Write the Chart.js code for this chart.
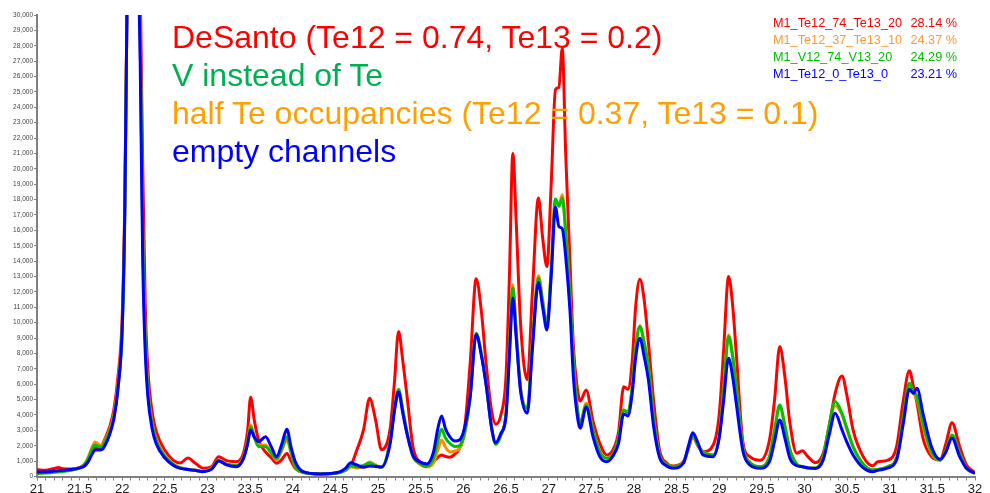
<!DOCTYPE html>
<html>
<head>
<meta charset="utf-8">
<script src="https://cdn.jsdelivr.net/npm/chart.js@4.4.1/dist/chart.umd.min.js"></script>
<style>
  body { margin: 0; background: #fff; }
  #wrap { position: relative; width: 990px; height: 493px; font-family: "Liberation Sans", Arial, sans-serif; }
  #plot { position: absolute; left: 0; top: 0; }
  .notes { position: absolute; left: 172px; top: 19.3px; font-size: 32px; line-height: 37.8px; white-space: nowrap; }
  .key { position: absolute; left: 773px; top: 15.4px; width: 184px; font-size: 12.7px; line-height: 17px; white-space: nowrap; }
  .key div { display: flex; justify-content: space-between; }
</style>
</head>
<body>
<div id="wrap">
  <canvas id="plot" width="990" height="493"></canvas>
  <div class="notes">
    <div style="color:#ff0000">DeSanto (Te12 = 0.74, Te13 = 0.2)</div>
    <div style="color:#00b050">V instead of Te</div>
    <div style="color:#ffa000">half Te occupancies (Te12 = 0.37, Te13 = 0.1)</div>
    <div style="color:#0000ff">empty channels</div>
  </div>
  <div class="key">
    <div style="color:#ff0000"><span>M1_Te12_74_Te13_20</span><span>28.14 %</span></div>
    <div style="color:#ff9933"><span>M1_Te12_37_Te13_10</span><span>24.37 %</span></div>
    <div style="color:#00c000"><span>M1_V12_74_V13_20</span><span>24.29 %</span></div>
    <div style="color:#0000ff"><span>M1_Te12_0_Te13_0</span><span>23.21 %</span></div>
  </div>
</div>
<script>
// 2theta positions (deg), shared by all four patterns
const twoTheta = [
  21.0, 21.1, 21.2, 21.25, 21.3, 21.4, 21.5, 21.55, 21.6, 21.65,
  21.68, 21.72, 21.76, 21.8, 21.85, 21.9, 21.95, 22.0, 22.03, 22.06,
  22.12, 22.18, 22.21, 22.24, 22.27, 22.3, 22.35, 22.4, 22.5, 22.6,
  22.68, 22.77, 22.85, 22.95, 23.05, 23.13, 23.22, 23.34, 23.42, 23.47,
  23.505, 23.55, 23.6, 23.68, 23.75, 23.81, 23.87, 23.93, 23.98, 24.03,
  24.12, 24.32, 24.55, 24.62, 24.68, 24.75, 24.83, 24.9, 24.97, 25.04,
  25.14, 25.19, 25.24, 25.29, 25.34, 25.41, 25.49, 25.57, 25.65, 25.7,
  25.745, 25.79, 25.84, 25.9, 25.96, 26.02, 26.08, 26.15, 26.21, 26.27,
  26.33, 26.38, 26.44, 26.5, 26.54, 26.58, 26.62, 26.67, 26.75, 26.81,
  26.88, 26.93, 26.98, 27.03, 27.08, 27.12, 27.16, 27.2, 27.25, 27.29,
  27.33, 27.37, 27.44, 27.52, 27.6, 27.68, 27.75, 27.82, 27.88, 27.93,
  27.98, 28.02, 28.07, 28.12, 28.17, 28.23, 28.3, 28.38, 28.46, 28.58,
  28.64, 28.69, 28.75, 28.81, 28.93, 29.0, 29.05, 29.11, 29.16, 29.2,
  29.28, 29.36, 29.48, 29.59, 29.65, 29.71, 29.77, 29.83, 29.91, 29.975,
  30.04, 30.13, 30.22, 30.29, 30.36, 30.44, 30.5, 30.57, 30.69, 30.8,
  30.86, 30.98, 31.08, 31.16, 31.23, 31.28, 31.32, 31.39, 31.49, 31.59,
  31.66, 31.73, 31.82, 31.9, 32.0
];

// M1_Te12_74_Te13_20 (DeSanto)
const teFull = [
  450, 400, 520, 580, 500, 480, 580, 750, 1100, 1700,
  1900, 1850, 2000, 2500, 3200, 4300, 6500, 10500, 18000, 33000,
  55000, 40000, 32000, 20000, 11000, 7000, 4200, 2900, 1700, 1050,
  880, 1200, 900, 530, 650, 1280, 1030, 960, 1500, 3000,
  5150, 3600, 2350, 1600, 1200, 860, 1100, 1500, 1000, 520,
  250, 170, 280, 450, 700, 1700, 3050, 5080, 3700, 1750,
  3050, 6000, 9420, 7500, 5200, 1900, 950, 780, 960, 1250,
  1400, 1300, 1250, 1450, 1900, 3400, 7370, 12850, 10800, 7150,
  4300, 3400, 4000, 6500, 13000, 21000, 16500, 10000, 6300, 12000,
  18100, 15500, 13650, 19000, 25150, 25300, 27860, 21000, 14000, 8500,
  6000, 4900, 5630, 3600, 2160, 1400, 1700, 2900, 5840, 5670,
  7500, 11000, 12830, 11500, 8700, 4980, 1720, 900, 680, 960,
  1800, 2590, 2000, 1610, 2050, 4000, 8000, 13000, 11000, 8020,
  2160, 1290, 1050, 2370, 5000, 8450, 6500, 3460, 1510, 1680,
  1290, 900, 1510, 3300, 5410, 6540, 5200, 3030, 1290, 700,
  960, 1070, 1940, 4980, 6880, 5800, 4760, 2490, 1290, 1070,
  2160, 3500, 1940, 750, 250
];

// M1_Te12_37_Te13_10 (half Te occupancies)
const teHalf = [
  230, 250, 300, 320, 350, 420, 560, 750, 1250, 1950,
  2250, 2100, 2000, 2400, 3000, 4000, 6000, 10000, 17500, 33000,
  55000, 38000, 29000, 16000, 9000, 5800, 3500, 2400, 1350, 800,
  580, 480, 420, 340, 550, 1050, 820, 720, 1250, 2300,
  3350, 2600, 2050, 2050, 1500, 1070, 1700, 2370, 1500, 600,
  280, 160, 250, 400, 640, 550, 650, 950, 750, 600,
  2200, 4200, 5600, 4300, 2800, 1300, 800, 620, 900, 1700,
  2370, 1900, 1610, 1650, 1850, 2900, 5200, 9300, 8000, 5850,
  3200, 2100, 2700, 4200, 8500, 12460, 9500, 5800, 4440, 8800,
  13050, 11500, 9860, 13500, 18000, 17600, 18320, 16000, 11800, 7580,
  4800, 3460, 4760, 3030, 1610, 1180, 1400, 2500, 4330, 4150,
  5800, 8300, 9800, 8700, 7150, 3800, 1400, 800, 640, 900,
  1850, 2700, 2000, 1610, 1400, 2600, 5500, 9210, 7800, 5840,
  1830, 950, 640, 1300, 3000, 4600, 3300, 1720, 800, 650,
  560, 560, 1290, 3300, 4600, 4000, 3000, 1940, 800, 420,
  450, 650, 1200, 3800, 5900, 5400, 5000, 3300, 1500, 1050,
  1700, 2650, 1500, 550, 200
];

// M1_V12_74_V13_20 (V instead of Te)
const vanadium = [
  200, 220, 270, 300, 330, 410, 550, 720, 1150, 1800,
  2050, 1950, 1900, 2300, 2900, 3800, 5800, 9600, 17000, 33000,
  55000, 38000, 28500, 15500, 8800, 5600, 3400, 2300, 1300, 780,
  560, 460, 400, 320, 520, 1020, 800, 700, 1200, 2200,
  3250, 2500, 1950, 1940, 1500, 1180, 1800, 2590, 1600, 650,
  290, 160, 260, 420, 720, 620, 720, 870, 700, 600,
  2250, 4300, 5650, 4300, 2850, 1300, 850, 650, 1200, 2300,
  3070, 2500, 2160, 1950, 2000, 3000, 5200, 9300, 8000, 5850,
  3200, 2100, 2700, 4100, 8200, 12250, 9300, 5700, 4440, 8700,
  12900, 11300, 9860, 13400, 18040, 17560, 18100, 15800, 11600, 7400,
  4700, 3460, 4650, 3000, 1600, 1180, 1400, 2500, 4330, 4150,
  5800, 8300, 9750, 8700, 7150, 3800, 1400, 800, 640, 900,
  1900, 2700, 2050, 1610, 1400, 2600, 5400, 9100, 7700, 5840,
  1830, 900, 640, 1290, 3000, 4650, 3300, 1720, 800, 650,
  560, 560, 1290, 3300, 4870, 4110, 3100, 1940, 800, 420,
  450, 650, 1180, 3890, 6060, 5500, 5190, 3460, 1610, 1070,
  1700, 2700, 1510, 530, 210
];

// M1_Te12_0_Te13_0 (empty channels)
const emptyCh = [
  300, 300, 350, 380, 400, 450, 560, 650, 950, 1500,
  1720, 1720, 1750, 2050, 2700, 3700, 5700, 9800, 17500, 33000,
  55000, 36000, 27000, 14000, 8000, 5200, 3100, 2100, 1200, 720,
  530, 450, 400, 310, 480, 1000, 760, 640, 1150, 2100,
  3030, 2550, 2270, 2590, 1900, 1290, 2100, 3070, 1900, 950,
  320, 170, 300, 550, 900, 750, 600, 680, 650, 620,
  2100, 4200, 5500, 4100, 2750, 1350, 950, 820, 1600, 3100,
  3940, 3100, 2590, 2300, 2400, 3300, 5200, 9230, 7900, 5840,
  3200, 2200, 2800, 3900, 7800, 11600, 9000, 5600, 4110, 8300,
  12610, 11000, 9530, 13000, 17510, 16250, 16100, 14300, 10800, 6500,
  4200, 3140, 4500, 2590, 1290, 960, 1300, 2160, 4070, 3940,
  5400, 7700, 8990, 7800, 6280, 3300, 1250, 700, 530, 860,
  2000, 2850, 2200, 1400, 1290, 2500, 4800, 7690, 6400, 4760,
  1610, 750, 530, 960, 2300, 3680, 2500, 1180, 700, 640,
  560, 520, 1070, 2700, 4110, 3030, 2200, 1400, 560, 310,
  400, 560, 1070, 3460, 5670, 5410, 5740, 4110, 1940, 1120,
  1610, 2490, 1290, 530, 210
];

const yTicks = { min: 0, max: 30000, step: 1000 };
const xTicks = { min: 21, max: 32, step: 0.1, labelEvery: 0.5 };

function series(label, ys, color, order) {
    return {
        label: label,
        data: twoTheta.map((x, i) => ({ x: x, y: ys[i] })),
        borderColor: color,
        borderWidth: 3,
        pointRadius: 0,
        cubicInterpolationMode: 'monotone',
        fill: false,
        order: order,
    };
}

new Chart(document.getElementById('plot'), {
    type: 'line',
    data: {
        datasets: [
            series('M1_Te12_74_Te13_20', teFull, '#ff0000', 3),
            series('M1_Te12_37_Te13_10', teHalf, '#ff8c00', 2),
            series('M1_V12_74_V13_20', vanadium, '#00c000', 1),
            series('M1_Te12_0_Te13_0', emptyCh, '#0000ff', 0),
        ],
    },
    options: {
        responsive: false,
        animation: false,
        layout: { padding: { left: 0, right: 15, top: 15, bottom: 0 } },
        plugins: { legend: { display: false }, tooltip: { enabled: false } },
        scales: {
            x: {
                type: 'linear',
                min: xTicks.min,
                max: xTicks.max,
                afterFit: (s) => { s.height = 16.5; },
                border: { color: '#808080', width: 2 },
                grid: { drawOnChartArea: false, tickLength: 4, tickColor: '#808080' },
                ticks: {
                    stepSize: xTicks.step,
                    autoSkip: false,
                    maxRotation: 0,
                    padding: 1,
                    color: '#1a1a1a',
                    font: { family: 'Liberation Sans', size: 13 },
                    callback: (v) => {
                        const k = v / xTicks.labelEvery;
                        return Math.abs(k - Math.round(k)) < 1e-6 ? String(Math.round(v * 10) / 10) : '';
                    },
                },
            },
            y: {
                min: yTicks.min,
                max: yTicks.max,
                afterFit: (s) => { s.width = 37; },
                border: { color: '#808080', width: 2 },
                grid: { drawOnChartArea: false, tickLength: 3, tickColor: '#808080' },
                ticks: {
                    stepSize: yTicks.step,
                    autoSkip: false,
                    padding: 1,
                    color: '#444',
                    font: { family: 'Liberation Sans', size: 6.5 },
                },
            },
        },
    },
});
</script>
</body>
</html>
